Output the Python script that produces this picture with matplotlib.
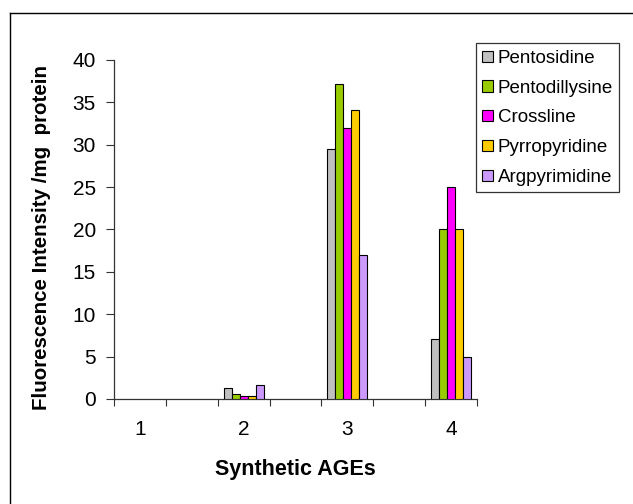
import numpy as np
import matplotlib
matplotlib.use("Agg")
import matplotlib.pyplot as plt
from matplotlib.lines import Line2D
from matplotlib.patches import Patch

plt.rcParams['font.family'] = ['Liberation Sans', 'DejaVu Sans']

# datos
categorias = [1, 2, 3, 4]
series = ['Pentosidine', 'Pentodillysine', 'Crossline', 'Pyrropyridine', 'Argpyrimidine']
pentosidine = [0, 1.35, 29.5, 7.1]
pentodillysine = [0, 0.55, 37.2, 20.0]
crossline = [0, 0.3, 32.0, 25.0]
pyrropyridine = [0, 0.3, 34.1, 20.0]
argpyrimidine = [0, 1.7, 17.0, 5.0]
valores = [pentosidine, pentodillysine, crossline, pyrropyridine, argpyrimidine]
colores = ['#C0C0C0', '#99CC00', '#FF00FF', '#FFCC00', '#CC99FF']

W, H = 633, 504
fig = plt.figure(figsize=(W / 100, H / 100), dpi=100)
ax = fig.add_axes([114 / W, 1 - 399 / H, (477 - 114) / W, (399 - 60) / H])

x = np.array(categorias, dtype=float)
ancho = 0.077
for i, (nombre, vals) in enumerate(zip(series, valores)):
    desp = (i - 2) * ancho
    alturas = np.array(vals)
    mask = alturas > 0
    ax.bar(x[mask] + desp, alturas[mask], width=ancho, color=colores[i],
           edgecolor='black', linewidth=0.8, zorder=3)

ax.set_xlim(0.75, 4.25)
ax.set_ylim(0, 40)
ax.set_yticks(range(0, 41, 5))
ax.set_xticks(np.arange(0.75, 4.26, 0.5))
ax.set_xticklabels([])
ax.set_xticks(categorias, minor=True)
ax.set_xticklabels([str(c) for c in categorias], minor=True)
ax.tick_params(axis='x', which='major', direction='out', length=5, width=0.8, color='#333333')
ax.tick_params(axis='x', which='minor', length=0, pad=15, labelsize=15)
ax.tick_params(axis='y', direction='out', length=6, width=0.8, pad=7, labelsize=15, color='#333333')

for s in ['top', 'right']:
    ax.spines[s].set_visible(False)
for s in ['left', 'bottom']:
    ax.spines[s].set_linewidth(0.9)
    ax.spines[s].set_color('#333333')

fig.text(42 / W, 1 - 238 / H, 'Fluorescence Intensity /mg  protein', rotation=90,
         ha='center', va='center', fontsize=14.8, fontweight='bold')
fig.text(295 / W, 1 - 470 / H, 'Synthetic AGEs', ha='center', va='center',
         fontsize=15.5, fontweight='bold')

# marco exterior (solo se ven borde izquierdo y superior)
fig.add_artist(Line2D([9.5 / W, 9.5 / W], [0, 1 - 12.5 / H], transform=fig.transFigure,
                      color='black', linewidth=1.0))
fig.add_artist(Line2D([9.5 / W, 1], [1 - 12.5 / H, 1 - 12.5 / H], transform=fig.transFigure,
                      color='black', linewidth=1.0))

handles = [Patch(facecolor=c, edgecolor='black', linewidth=0.8) for c in colores]
leg = fig.legend(handles, series, loc='upper left',
                 bbox_to_anchor=(475.7 / W, 1 - 43.3 / H), bbox_transform=fig.transFigure,
                 fontsize=13.5, frameon=True, fancybox=False, shadow=False,
                 handlelength=0.55, handleheight=0.55, handletextpad=0.27,
                 labelspacing=0.68, borderpad=0.35, borderaxespad=0)
leg.get_frame().set_edgecolor('black')
leg.get_frame().set_linewidth(0.9)

fig.savefig('out.png', dpi=100)
